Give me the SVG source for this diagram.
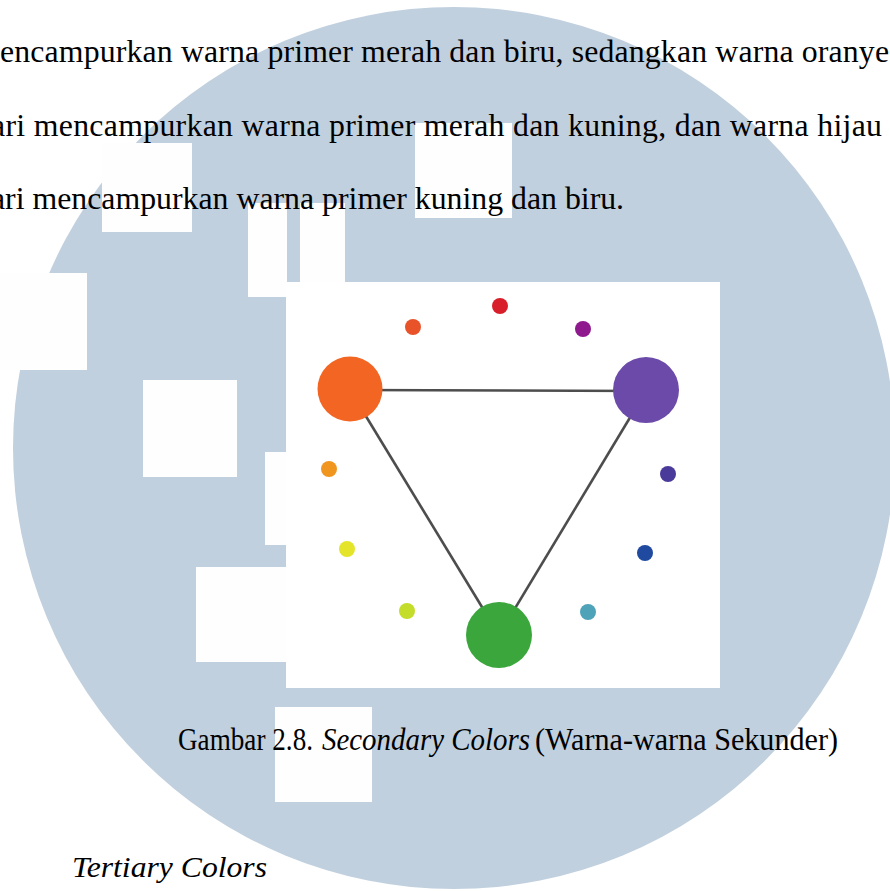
<svg xmlns="http://www.w3.org/2000/svg" width="890" height="891" viewBox="0 0 890 891">
  <style>
    .wm { fill: #c1d0de; }
    .hole { fill: #fefefe; }
    .body { font-family: "Liberation Serif", "Times New Roman", serif; font-size: 31.8px; fill: #000; }
    .cap { font-family: "Liberation Serif", "Times New Roman", serif; font-size: 32px; fill: #000; }
    .it { font-style: italic; }
    .edge { stroke: #4d4d4d; stroke-width: 2.6; fill: none; }
  </style>
  <rect x="0" y="0" width="890" height="891" fill="#ffffff"/>
  <g id="watermark">
    <circle class="wm" cx="454" cy="448" r="441"/>
    <rect class="hole" x="0" y="273" width="87" height="97"/>
    <rect class="hole" x="102" y="143" width="90" height="89"/>
    <rect class="hole" x="248" y="203" width="39" height="94"/>
    <rect class="hole" x="300" y="203" width="45" height="80"/>
    <rect class="hole" x="415" y="123" width="97" height="95"/>
    <rect class="hole" x="143" y="380" width="94" height="97"/>
    <rect class="hole" x="265" y="452" width="22" height="93"/>
    <rect class="hole" x="196" y="567" width="91" height="95"/>
    <rect class="hole" x="275" y="707" width="97" height="95"/>
  </g>
  <g id="figure">
    <rect x="286" y="282" width="434" height="406" fill="#ffffff"/>
    <g id="connectors">
      <line class="edge" x1="350" y1="390" x2="646" y2="391"/>
      <line class="edge" x1="350" y1="390" x2="499" y2="635"/>
      <line class="edge" x1="646" y1="391" x2="499" y2="635"/>
    </g>
    <g id="node-orange"><circle cx="350" cy="389" r="32.5" fill="#f26522"/></g>
    <g id="node-purple"><circle cx="646" cy="390" r="33" fill="#6c4aa9"/></g>
    <g id="node-green"><circle cx="499" cy="635" r="33" fill="#3aa63c"/></g>
    <g id="dot-red-orange"><circle cx="413" cy="327" r="8" fill="#e8532a"/></g>
    <g id="dot-red"><circle cx="500" cy="306" r="8" fill="#d81e2a"/></g>
    <g id="dot-red-violet"><circle cx="583" cy="329" r="8" fill="#8e1a8e"/></g>
    <g id="dot-blue-violet"><circle cx="668" cy="474" r="8" fill="#4a3a9a"/></g>
    <g id="dot-blue"><circle cx="645" cy="553" r="8" fill="#1f4aa0"/></g>
    <g id="dot-blue-green"><circle cx="588" cy="612" r="8" fill="#4fa3b8"/></g>
    <g id="dot-yellow-green"><circle cx="407" cy="611" r="8" fill="#c4dc2a"/></g>
    <g id="dot-yellow"><circle cx="347" cy="549" r="8" fill="#e4e42a"/></g>
    <g id="dot-yellow-orange"><circle cx="329" cy="469" r="8" fill="#f0961e"/></g>
  </g>
  <g id="text">
    <text class="body" x="0" y="62" textLength="889" lengthAdjust="spacing">encampurkan warna primer merah dan biru, sedangkan warna oranye</text>
    <text class="body" x="-9" y="136" textLength="891" lengthAdjust="spacing">ari mencampurkan warna primer merah dan kuning, dan warna hijau</text>
    <text class="body" x="-9" y="209">ari mencampurkan warna primer kuning dan biru.</text>
    <text class="cap" x="178" y="750" textLength="135" lengthAdjust="spacingAndGlyphs">Gambar 2.8.</text>
    <text class="cap it" x="322" y="750" textLength="208" lengthAdjust="spacingAndGlyphs">Secondary Colors</text>
    <text class="cap" x="535" y="750" textLength="303" lengthAdjust="spacingAndGlyphs">(Warna-warna Sekunder)</text>
    <text class="cap it" x="72" y="877" style="font-size:30px" textLength="195" lengthAdjust="spacingAndGlyphs">Tertiary Colors</text>
  </g>
</svg>
